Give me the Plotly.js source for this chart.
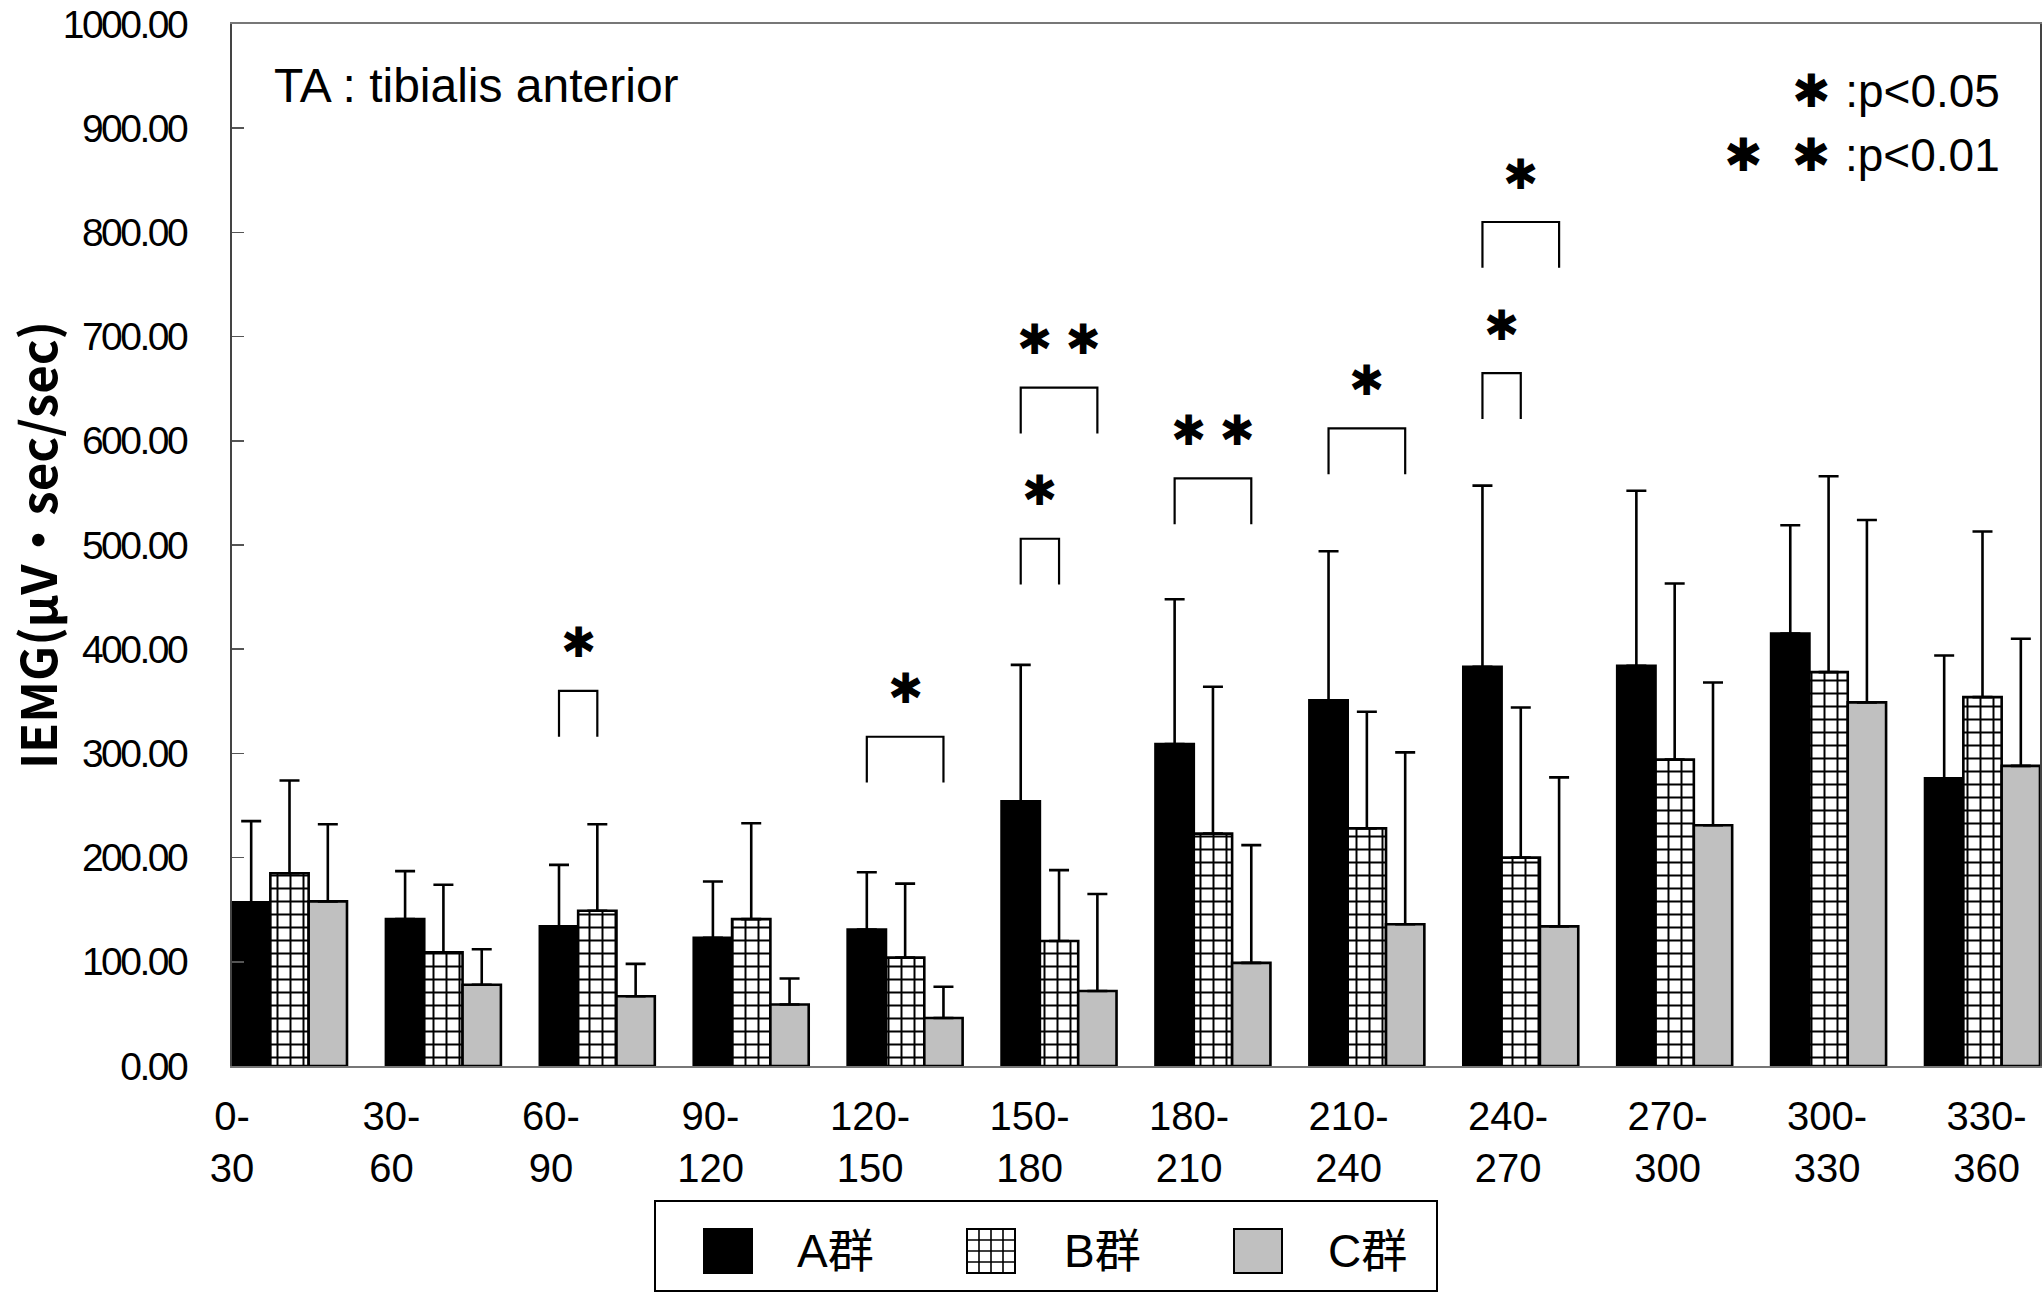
<!DOCTYPE html>
<html>
<head>
<meta charset="utf-8">
<script src="https://cdn.plot.ly/plotly-3.0.1.min.js"></script>
<style>
  html, body { margin: 0; padding: 0; background: #fff; }
  #chart { width: 2043px; height: 1293px; }
  #chart .ytick text { letter-spacing: -2.5px; }
</style>
</head>
<body>
<div id="chart"></div>
<script>
// ---------------- data ----------------
const categories = ['0-30', '30-60', '60-90', '90-120', '120-150', '150-180',
                    '180-210', '210-240', '240-270', '270-300', '300-330', '330-360'];
const seriesNames = ['A群', 'B群', 'C群'];

const meanA = [157, 141, 134, 123, 131, 254, 309, 351, 383, 384, 415, 276];
const sdA   = [ 78,  46,  59,  54,  55, 131, 139, 143, 174, 168, 104, 118];
const meanB = [185, 109, 149, 141, 104, 120, 223, 228, 200, 294, 378, 354];
const sdB   = [ 89,  65,  83,  92,  71,  68, 141, 112, 144, 169, 188, 159];
const meanC = [158,  78,  67,  59,  46,  72,  99, 136, 134, 231, 349, 288];
const sdC   = [ 74,  34,  31,  25,  30,  93, 113, 165, 143, 137, 175, 122];

const yTickValues = [0, 100, 200, 300, 400, 500, 600, 700, 800, 900, 1000];

// significance marks: group index, compared pair, label, bracket level
const sigGroup = [2, 4, 5, 5, 6, 7, 8, 8];
const sigPair  = ['AB', 'AC', 'AB', 'AC', 'AC', 'AC', 'AB', 'AC'];
const sigText  = ['✱', '✱', '✱', '✱\u00a0✱', '✱\u00a0✱', '✱', '✱', '✱'];
const sigLevel = [360, 316, 506, 651, 564, 612, 665, 810];

// ---------------- layout helpers ----------------
const W = 2043, H = 1293;
const M = { l: 232, r: 3, t: 24, b: 227 };
const plotW = W - M.l - M.r, plotH = H - M.t - M.b;
const px2x = px => (px - M.l) / plotW;
const py2y = py => (H - M.b - py) / plotH;

const BARGAP = 0.253;
const barW = (1 - BARGAP) / 3;
const idx = categories.map((_, i) => i);
const labelPos = categories.map((_, i) => -0.3736 + 1.0364 * i);

const latin = 'Liberation Sans, Arial, Noto Sans CJK JP, sans-serif';
const mixed = 'Liberation Sans, DejaVu Sans, Noto Sans CJK JP, sans-serif';
const star = 'DejaVu Sans, sans-serif';

const errStyle = (sd) => ({
  type: 'data', symmetric: false, array: sd, arrayminus: sd.map(() => 0),
  color: '#000', thickness: 2.6, width: 10
});

const traces = [
  {
    type: 'bar', name: seriesNames[0], x: idx, y: meanA,
    marker: { color: '#000', line: { color: '#000', width: 2.6 } },
    error_y: errStyle(sdA)
  },
  {
    type: 'bar', name: seriesNames[1], x: idx, y: meanB,
    marker: {
      color: '#fff', line: { color: '#000', width: 2.6 },
      pattern: { shape: '+', size: 13, solidity: 0.28, fgcolor: '#000', bgcolor: '#fff', fillmode: 'replace' }
    },
    error_y: errStyle(sdB)
  },
  {
    type: 'bar', name: seriesNames[2], x: idx, y: meanC,
    marker: { color: '#c0c0c0', line: { color: '#000', width: 2.6 } },
    error_y: errStyle(sdC)
  }
];

// ---------------- significance brackets ----------------
const shapes = [];
const annotations = [];
const LEG = 44, LABEL_UP = 46;
sigGroup.forEach((g, k) => {
  const x0 = g - barW;
  const x1 = sigPair[k] === 'AB' ? g : g + barW;
  const yt = sigLevel[k], yb = yt - LEG;
  shapes.push({
    type: 'path', xref: 'x', yref: 'y',
    path: `M${x0},${yb} L${x0},${yt} L${x1},${yt} L${x1},${yb}`,
    line: { color: '#000', width: 2.2 }
  });
  annotations.push({
    xref: 'x', yref: 'y', x: (x0 + x1) / 2, y: yt + LABEL_UP,
    text: sigText[k], showarrow: false,
    font: { family: star, size: 42, color: '#000' },
    xanchor: 'center', yanchor: 'middle'
  });
});

// ---------------- text in plot ----------------
annotations.push({
  xref: 'paper', yref: 'paper', x: px2x(272), y: py2y(86),
  text: 'TA : tibialis anterior', showarrow: false,
  font: { family: latin, size: 48, color: '#000' },
  xanchor: 'left', yanchor: 'middle'
});
annotations.push({
  xref: 'paper', yref: 'paper', x: px2x(2002), y: py2y(91),
  text: '<span style="font-family:DejaVu Sans;font-size:46px">✱\u00a0</span>:p&lt;0.05', showarrow: false,
  font: { family: mixed, size: 46, color: '#000' },
  xanchor: 'right', yanchor: 'middle'
});
annotations.push({
  xref: 'paper', yref: 'paper', x: px2x(2002), y: py2y(155),
  text: '<span style="font-family:DejaVu Sans;font-size:46px">✱\u00a0\u00a0✱\u00a0</span>:p&lt;0.01', showarrow: false,
  font: { family: mixed, size: 46, color: '#000' },
  xanchor: 'right', yanchor: 'middle'
});

// ---------------- legend box (drawn) ----------------
const legBox = { x0: 655, x1: 1437, y0: 1201, y1: 1291 };
shapes.push({
  type: 'rect', xref: 'paper', yref: 'paper',
  x0: px2x(legBox.x0), x1: px2x(legBox.x1), y0: py2y(legBox.y1), y1: py2y(legBox.y0),
  line: { color: '#000', width: 2 }, fillcolor: 'rgba(0,0,0,0)'
});
const swatchLeft = [704, 967, 1234];
const textLeft = [795, 1062, 1326];
const swTop = 1229, swBot = 1273, swW = 48;
const swFill = ['#000', '#fff', '#c0c0c0'];
swatchLeft.forEach((sx, k) => {
  shapes.push({
    type: 'rect', xref: 'paper', yref: 'paper',
    x0: px2x(sx), x1: px2x(sx + swW), y0: py2y(swBot), y1: py2y(swTop),
    line: { color: '#000', width: 2 }, fillcolor: swFill[k]
  });
  if (k === 1) {
    let p = '';
    for (let j = 1; j < 4; j++) {
      const gx = px2x(sx + swW * j / 4);
      p += `M${gx},${py2y(swTop)} L${gx},${py2y(swBot)} `;
      const gy = py2y(swTop + (swBot - swTop) * j / 4);
      p += `M${px2x(sx)},${gy} L${px2x(sx + swW)},${gy} `;
    }
    shapes.push({ type: 'path', xref: 'paper', yref: 'paper', path: p, line: { color: '#000', width: 1.6 } });
  }
  annotations.push({
    xref: 'paper', yref: 'paper', x: px2x(textLeft[k]), y: py2y(1251),
    text: seriesNames[k], showarrow: false,
    font: { family: mixed, size: 46, color: '#000' },
    xanchor: 'left', yanchor: 'middle'
  });
});

const layout = {
  width: W, height: H,
  margin: { l: M.l, r: M.r, t: M.t, b: M.b, pad: 0 },
  paper_bgcolor: '#fff', plot_bgcolor: '#fff',
  showlegend: false,
  barmode: 'group', bargap: BARGAP, bargroupgap: 0,
  xaxis: {
    type: 'linear', range: [-0.3736, 11.3736], fixedrange: true,
    tickmode: 'array', tickvals: labelPos, ticktext: categories.map(c => c.replace('-', '-<br>')),
    ticks: '', showgrid: false, zeroline: false,
    showline: true, mirror: true, linecolor: '#777', linewidth: 2,
    tickfont: { family: latin, size: 40, color: '#000' },
    ticklabelstandoff: 14
  },
  yaxis: {
    range: [0, 1000], fixedrange: true,
    tickmode: 'array', tickvals: yTickValues, ticktext: yTickValues.map(v => v.toFixed(2)),
    ticks: 'inside', ticklen: 12, tickwidth: 1.5, tickcolor: '#555',
    showgrid: false, zeroline: false,
    showline: true, mirror: true, linecolor: '#444', linewidth: 2,
    tickfont: { family: latin, size: 39, color: '#000' },
    ticklabelstandoff: 36,
    title: {
      text: 'IEMG(μV・sec/sec)', standoff: 8,
      font: { family: 'Noto Sans CJK JP, sans-serif', size: 49, color: '#000', weight: 'bold' }
    }
  },
  shapes: shapes,
  annotations: annotations
};

Plotly.newPlot('chart', traces, layout, { staticPlot: true, displayModeBar: false });
</script>
</body>
</html>
